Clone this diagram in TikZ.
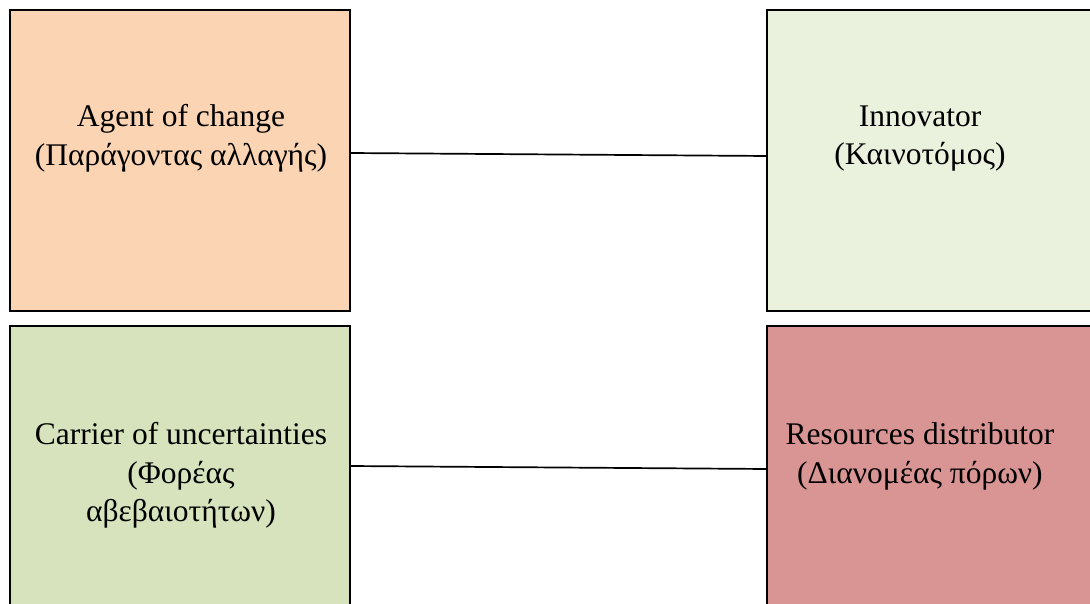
\documentclass[tikz,border=0pt]{standalone}
\usepackage{fontspec}
\setmainfont{Liberation Serif}
\usetikzlibrary{calc}
\definecolor{peach}{HTML}{FBD4B4}
\definecolor{paleg}{HTML}{EAF1DD}
\definecolor{sage}{HTML}{D6E3BC}
\definecolor{rose}{HTML}{D99594}
\tikzset{
  box/.style={draw=black, line width=1.8pt, inner sep=0pt, outer sep=0pt, rectangle},
  lbl/.style={align=center, inner sep=0pt, font=\fontsize{31.5}{38.5}\selectfont},
  link/.style={draw=black, line width=1.7pt}
}
\begin{document}
\begin{tikzpicture}[x=1pt,y=-1pt]
\useasboundingbox (0,0) rectangle (1090,604);
\clip (0,0) rectangle (1090,604);
\node[box, fill=peach, minimum width=340pt, minimum height=301pt] (tl) at (180,160.5) {};
\node[box, fill=paleg, minimum width=343pt, minimum height=301pt] (tr) at (938.5,160.5) {};
\node[box, fill=sage, minimum width=340pt, minimum height=304pt] (bl) at (180,478) {};
\node[box, fill=rose, minimum width=343pt, minimum height=304pt] (br) at (938.5,478) {};
\node[lbl] (tlt) at (181,138.5) {Agent of change\\(Παράγοντας αλλαγής)};
\node[lbl] (trt) at (920,138.5) {Innovator\\(Καινοτόμος)};
\node[lbl] (blt) at (181,475.5) {Carrier of uncertainties\\(Φορέας\\αβεβαιοτήτων)};
\node[lbl] (brt) at (920,456.5) {Resources distributor\\(Διανομέας πόρων)};
\coordinate (a1) at ($(tl.north east)+(0,143)$);
\coordinate (b1) at ($(tr.north west)+(0,146)$);
\coordinate (a2) at ($(bl.north east)+(0,140)$);
\coordinate (b2) at ($(br.north west)+(0,143)$);
\draw[link] (a1) -- (b1);
\draw[link] (a2) -- (b2);
\end{tikzpicture}
\end{document}
